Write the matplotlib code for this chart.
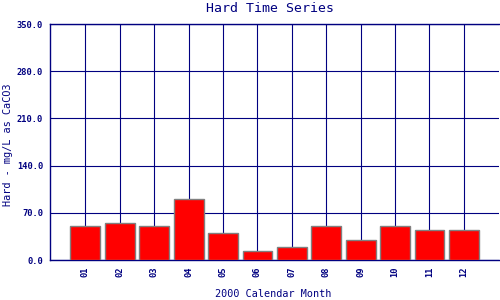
import numpy as np
import matplotlib
matplotlib.use("Agg")
import matplotlib.pyplot as plt

# ----------------------------
# Data
# ----------------------------
months = ['01', '02', '03', '04', '05', '06', '07', '08', '09', '10', '11', '12']
hardness = [50, 55, 50, 90, 40, 14, 19, 50, 29, 50, 44, 44]

NAVY = '#000080'
plt.rcParams['font.family'] = ['DejaVu Sans Mono']

fig = plt.figure(figsize=(5, 3), dpi=100)
ax = fig.add_axes([50/500, 1 - 260/300, 449/500, 236/300])

x = np.arange(1, len(months) + 1)
ax.bar(x, hardness, width=0.87, color='#ff0000', edgecolor='#808080',
       linewidth=1.0, zorder=3)

ax.set_xlim(-0.03, 13.02)
ax.set_ylim(0, 350)
ax.set_yticks([0, 70, 140, 210, 280, 350])
ax.set_yticklabels(['%.1f' % v for v in [0, 70, 140, 210, 280, 350]])
ax.set_xticks(x)
ax.set_xticklabels(months, rotation=90)

ax.grid(True, color=NAVY, linewidth=0.8, zorder=1)
ax.set_axisbelow(True)
for side in ['left', 'bottom', 'top']:
    ax.spines[side].set_color(NAVY)
    ax.spines[side].set_linewidth(1.0)
ax.spines['right'].set_visible(False)

ax.tick_params(axis='both', length=0, colors=NAVY, labelsize=6.3)
ax.tick_params(axis='y', pad=5)
ax.tick_params(axis='x', pad=5)
for lbl in ax.get_xticklabels() + ax.get_yticklabels():
    lbl.set_fontweight('bold')

fig.text(0.54, 0.972, 'Hard Time Series', ha='center', va='center',
         color=NAVY, fontsize=9.5)
fig.text(0.546, 0.02, '2000 Calendar Month', ha='center', va='center',
         color=NAVY, fontsize=7.3)
fig.text(0.016, 0.518, 'Hard - mg/L as CaCO3', ha='center', va='center',
         rotation=90, color=NAVY, fontsize=7.4)

fig.savefig('out.png', dpi=100)
